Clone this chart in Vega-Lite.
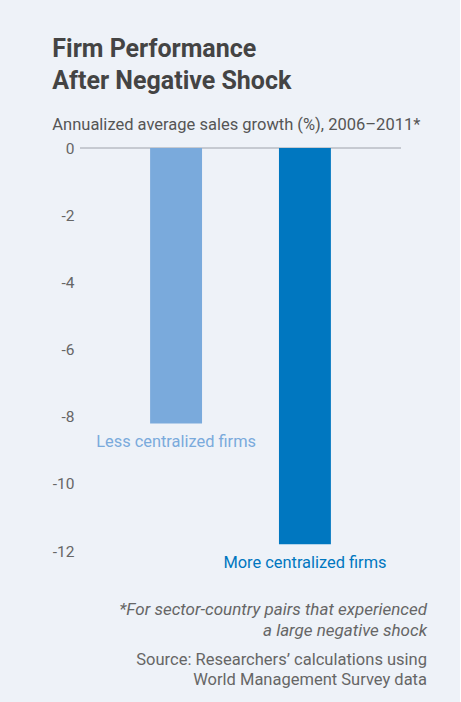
{
  "$schema": "https://vega.github.io/schema/vega-lite/v6.json",
  "background": "#eef2f8",
  "padding": {"left": 52, "top": 36, "right": 33, "bottom": 24},
  "autosize": {"type": "pad"},
  "title": {
    "text": ["Firm Performance", "After Negative Shock"],
    "subtitle": "Annualized average sales growth (%), 2006–2011*",
    "anchor": "start",
    "frame": "bounds",
    "font": "Roboto",
    "fontSize": 25,
    "fontWeight": "bold",
    "color": "#444444",
    "lineHeight": 32,
    "subtitleFont": "Roboto",
    "subtitleFontSize": 16.5,
    "subtitleColor": "#555555",
    "subtitlePadding": 23,
    "offset": 8
  },
  "vconcat": [
    {
      "width": 321,
      "height": 403,
      "title": {
        "text": ["*For sector-country pairs that experienced", "a large negative shock"],
        "subtitle": ["Source: Researchers’ calculations using", "World Management Survey data"],
        "orient": "bottom",
        "anchor": "end",
        "frame": "group",
        "font": "Roboto",
        "fontStyle": "italic",
        "fontWeight": "normal",
        "fontSize": 17,
        "color": "#666666",
        "lineHeight": 21,
        "subtitleFont": "Roboto",
        "subtitleFontSize": 16.5,
        "subtitleColor": "#666666",
        "subtitleLineHeight": 20,
        "subtitlePadding": 12,
        "dx": 26,
        "offset": 30
      },
      "data": {
        "values": [
          {"group": "Less centralized firms", "growth": -8.2},
          {"group": "More centralized firms", "growth": -11.8}
        ]
      },
      "layer": [
        {
          "mark": {"type": "rule", "color": "#b8bcc4", "strokeWidth": 1},
          "encoding": {"y": {"datum": 0, "type": "quantitative"}}
        },
        {
          "mark": {"type": "bar"},
          "encoding": {
            "x": {"field": "group", "type": "nominal", "sort": null, "axis": null,
                  "scale": {"paddingInner": 0.597, "paddingOuter": 0.544}},
            "y": {
              "field": "growth", "type": "quantitative",
              "scale": {"domain": [-12, 0], "nice": false},
              "axis": {
                "values": [0, -2, -4, -6, -8, -10, -12],
                "labelExpr": "'' + datum.value",
                "title": null,
                "domain": false,
                "ticks": false,
                "labelPadding": 6,
                "labelFont": "Roboto",
                "labelFontSize": 15.5,
                "labelColor": "#666666",
                "gridColor": "#dde1e8"
              }
            },
            "color": {"field": "group", "type": "nominal", "sort": null,
                      "scale": {"range": ["#7aaadc", "#0077c0"]}, "legend": null}
          }
        },
        {
          "mark": {"type": "text", "baseline": "top", "dy": 11, "fontSize": 16.4, "font": "Roboto"},
          "encoding": {
            "x": {"field": "group", "type": "nominal", "sort": null},
            "y": {"field": "growth", "type": "quantitative"},
            "text": {"field": "group"},
            "color": {"field": "group", "type": "nominal", "sort": null, "legend": null}
          }
        }
      ]
    }
  ],
  "config": {"view": {"stroke": null}}
}
